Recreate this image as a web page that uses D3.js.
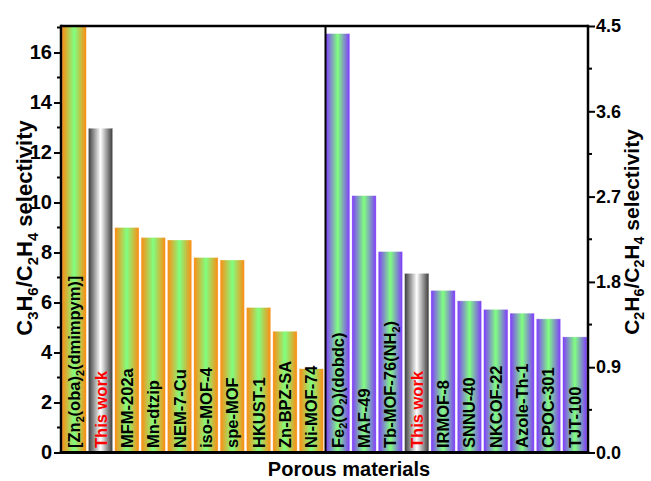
<!DOCTYPE html>
<html>
<head>
<meta charset="utf-8">
<script src="https://cdn.jsdelivr.net/npm/d3@7/dist/d3.min.js"></script>
<style>
  body { margin: 0; background: #fff; }
  svg text { font-family: Arial, "Liberation Sans", sans-serif; font-weight: bold; }
</style>
</head>
<body>
<svg id="chart" width="651" height="481"></svg>
<script>
// ---- data ----
// left group: C3H6/C2H4 selectivity (left axis)
const leftCategories = ["[Zn2(oba)2(dmimpym)]", "This work", "MFM-202a", "Mn-dtzip", "NEM-7-Cu",
  "iso-MOF-4", "spe-MOF", "HKUST-1", "Zn-BPZ-SA", "Ni-MOF-74"];
const leftValues = [17.1, 12.97, 9.0, 8.6, 8.5, 7.8, 7.7, 5.8, 4.85, 3.35];
// right group: C2H6/C2H4 selectivity (right axis)
const rightCategories = ["Fe2(O2)(dobdc)", "MAF-49", "Tb-MOF-76(NH2)", "This work", "IRMOF-8",
  "SNNU-40", "NKCOF-22", "Azole-Th-1", "CPOC-301", "TJT-100"];
const rightValues = [4.42, 2.71, 2.12, 1.89, 1.71, 1.6, 1.51, 1.47, 1.41, 1.22];
const leftTicks = [0, 2, 4, 6, 8, 10, 12, 14, 16];
const rightTicks = [0.0, 0.9, 1.8, 2.7, 3.6, 4.5];
const leftTitle = [["C", ""], ["3", "sub"], ["H", ""], ["6", "sub"], ["/C", ""], ["2", "sub"], ["H", ""], ["4", "sub"], [" selectivity", ""]];
const rightTitle = [["C", ""], ["2", "sub"], ["H", ""], ["6", "sub"], ["/C", ""], ["2", "sub"], ["H", ""], ["4", "sub"], [" selectivity", ""]];
const xTitle = "Porous materials";

// ---- layout ----
const svg = d3.select("#chart");
const L = 61, R = 588, T = 26, B = 452.5, MID = 325.5;

const allCats = leftCategories.map((c, i) => ({key: "L" + i, name: c, v: leftValues[i], side: "L"}))
  .concat(rightCategories.map((c, i) => ({key: "R" + i, name: c, v: rightValues[i], side: "R"})));

const x = d3.scaleBand().domain(allCats.map(d => d.key)).range([L, R]).paddingInner(0.08).paddingOuter(0.04);
const yL = d3.scaleLinear().domain([0, 17.06]).range([B, T]);
const yR = d3.scaleLinear().domain([0, 4.5]).range([B, T]);

// gradients
const defs = svg.append("defs");
function grad(id, edge, center) {
  const g = defs.append("linearGradient").attr("id", id).attr("x1", "0%").attr("x2", "100%").attr("y1", "0%").attr("y2", "0%");
  g.append("stop").attr("offset", "0%").attr("stop-color", edge);
  g.append("stop").attr("offset", "50%").attr("stop-color", center);
  g.append("stop").attr("offset", "100%").attr("stop-color", edge);
}
grad("gOrange", "#ff8a10", "#80ff80");
grad("gPurple", "#8038ff", "#80ff80");
grad("gGray", "#3a3a3a", "#ffffff");

const clip = defs.append("clipPath").attr("id", "plotClip");
clip.append("rect").attr("x", L).attr("y", T).attr("width", R - L).attr("height", B - T);

const barsG = svg.append("g").attr("clip-path", "url(#plotClip)");
barsG.selectAll("rect.bar").data(allCats).join("rect")
  .attr("class", "bar")
  .attr("x", d => x(d.key))
  .attr("width", x.bandwidth())
  .attr("y", d => (d.side === "L" ? yL : yR)(d.v))
  .attr("height", d => B - (d.side === "L" ? yL : yR)(d.v))
  .attr("fill", d => d.name === "This work" ? "url(#gGray)" : (d.side === "L" ? "url(#gOrange)" : "url(#gPurple)"))
  .attr("stroke", "#ffffff").attr("stroke-opacity", 0.5).attr("stroke-width", 0.6);

// split a formula label into [text, kind] parts (digits after Zn, ), Fe, O, NH become subscripts)
function splitFormula(str) {
  const parts = [];
  const subRe = /(Zn|\)|Fe|O|NH)(2)/g;
  let last = 0, m;
  while ((m = subRe.exec(str)) !== null) {
    parts.push([str.slice(last, m.index) + m[1], ""]);
    parts.push([m[2], "sub"]);
    last = m.index + m[0].length;
  }
  if (last < str.length) parts.push([str.slice(last), ""]);
  return parts;
}
// write parts as tspans; the tspan after a subscript carries the shift back up
function writeRich(sel, parts, fs, subScale, shift) {
  let pending = 0;
  parts.forEach(([t, k]) => {
    const ts = sel.append("tspan").text(t);
    if (k === "sub") {
      ts.attr("font-size", fs * subScale).attr("dy", shift + pending);
      pending = -shift;
    } else {
      ts.attr("font-size", fs);
      if (pending) ts.attr("dy", pending);
      pending = 0;
    }
  });
}

const labFS = 16.5;
allCats.forEach(d => {
  const cx = x(d.key) + x.bandwidth() / 2;
  const t = svg.append("text")
    .attr("transform", `translate(${cx + 6},448) rotate(-90)`)
    .attr("fill", d.name === "This work" ? "#ff0000" : "#000")
    .attr("font-size", labFS)
    .attr("text-anchor", "start");
  writeRich(t, splitFormula(d.name), labFS, 0.65, labFS * 0.22);
});

// frame
const frame = svg.append("g").attr("stroke", "#000").attr("fill", "none");
frame.append("line").attr("x1", L).attr("x2", R).attr("y1", T).attr("y2", T).attr("stroke-width", 2.5);
frame.append("line").attr("x1", L - 1.25).attr("x2", R + 1.25).attr("y1", B).attr("y2", B).attr("stroke-width", 3);
frame.append("line").attr("x1", MID).attr("x2", MID).attr("y1", T).attr("y2", B).attr("stroke-width", 2);

// left axis
const minorL = [1, 3, 5, 7, 9, 11, 13, 15, 17];
const gL = svg.append("g").attr("transform", `translate(${L},0)`);
gL.call(d3.axisLeft(yL).tickValues(leftTicks).tickFormat(d3.format("d")).tickSize(7).tickPadding(2));
gL.selectAll(".tick line").attr("stroke-width", 2);
gL.selectAll(".tick text").attr("font-size", 20).attr("fill", "#000");
gL.select(".domain").attr("stroke-width", 2.5).attr("d", `M0,${T - 1.25}V${B}`);
gL.selectAll("line.minor").data(minorL).join("line").attr("class", "minor")
  .attr("x1", 0).attr("x2", -4).attr("y1", d => yL(d)).attr("y2", d => yL(d)).attr("stroke", "#000").attr("stroke-width", 2);

// right axis
const minorR = [0.45, 1.35, 2.25, 3.15, 4.05];
const gR = svg.append("g").attr("transform", `translate(${R},0)`);
gR.call(d3.axisRight(yR).tickValues(rightTicks).tickFormat(d3.format(".1f")).tickSize(7).tickPadding(1));
gR.selectAll(".tick line").attr("stroke-width", 2);
gR.selectAll(".tick text").attr("font-size", 18).attr("fill", "#000");
gR.select(".domain").attr("stroke-width", 2.5).attr("d", `M0,${T - 1.25}V${B}`);
gR.selectAll("line.minor").data(minorR).join("line").attr("class", "minor")
  .attr("x1", 0).attr("x2", 4).attr("y1", d => yR(d)).attr("y2", d => yR(d)).attr("stroke", "#000").attr("stroke-width", 2);

// axis titles
const tl = svg.append("text").attr("text-anchor", "middle").attr("font-size", 22)
  .attr("transform", `translate(32,228) rotate(-90)`).attr("fill", "#000");
writeRich(tl, leftTitle, 22, 0.68, 22 * 0.25);
const tr = svg.append("text").attr("text-anchor", "middle").attr("font-size", 21)
  .attr("transform", `translate(639,232) rotate(-90)`).attr("fill", "#000");
writeRich(tr, rightTitle, 21, 0.68, 21 * 0.25);
svg.append("text").attr("x", 349).attr("y", 476).attr("text-anchor", "middle").attr("font-size", 20).attr("fill", "#000").text(xTitle);
</script>
</body>
</html>
